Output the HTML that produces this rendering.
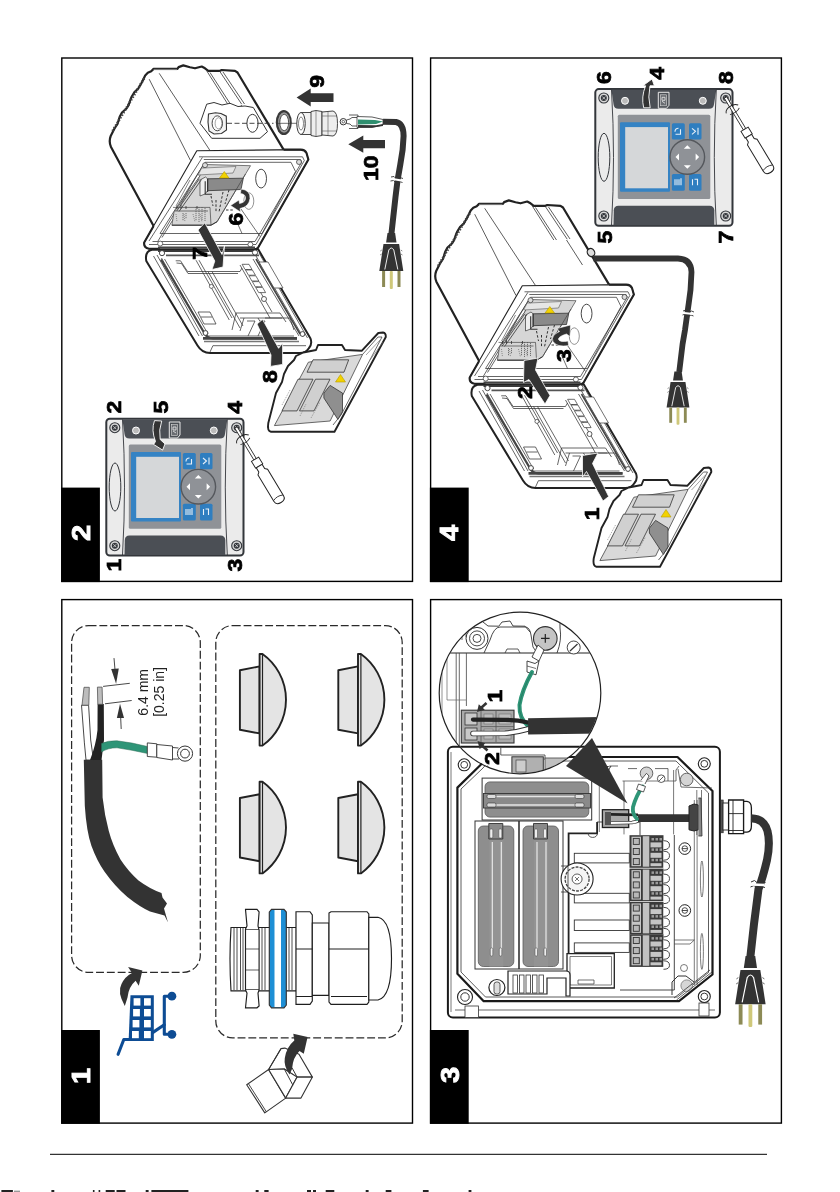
<!DOCTYPE html>
<html><head><meta charset="utf-8"><style>
html,body{margin:0;padding:0;background:#fff;}
body{width:840px;height:1192px;overflow:hidden;position:relative;font-family:"Liberation Sans",sans-serif;}
svg{position:absolute;left:0;top:0;filter:blur(0.3px);}
.n{font-family:"Liberation Sans",sans-serif;font-weight:bold;}
.t{font-family:"Liberation Sans",sans-serif;}
</style></head><body>
<svg width="840" height="1192" viewBox="0 0 840 1192">
<defs>
<g id="ctrl">
<rect x="0.8" y="0.8" width="137.2" height="136.7" rx="3.5" fill="#ebebeb" stroke="#33363b" stroke-width="2"/>
<path d="M17 1.5 L121.8 1.5 L119.5 16 Q119 20.5 114.5 20.5 L24 20.5 Q19.5 20.5 19 16 Z" fill="#4b4f55"/>
<path d="M19 137 L119.8 137 L119.8 122 Q119.5 117.5 115 117.5 L24 117.5 Q19.5 117.5 19.3 122 Z" fill="#4b4f55"/>
<path d="M17 1.5 Q21 69 17 137" fill="none" stroke="#33363b" stroke-width="0.9"/>
<path d="M121.8 1.5 Q117.8 69 121.8 137" fill="none" stroke="#33363b" stroke-width="0.9"/>
<rect x="23.3" y="26.5" width="92.5" height="84.3" rx="1.5" fill="#8f9297"/>
<rect x="25.5" y="34" width="50" height="69.5" rx="1" fill="#3583c4"/>
<rect x="30.7" y="38.8" width="42.8" height="61.2" fill="#d5d7d9"/>
<rect x="77.4" y="34.9" width="12.9" height="16.3" rx="1.5" fill="#2f7ec0"/>
<rect x="94.5" y="34.9" width="12.5" height="16.3" rx="1.5" fill="#2f7ec0"/>
<rect x="77.4" y="85.7" width="12.9" height="16.7" rx="1.5" fill="#2f7ec0"/>
<rect x="94.5" y="85.7" width="12.5" height="16.7" rx="1.5" fill="#2f7ec0"/>
<g fill="none" stroke="#e8f0f8" stroke-width="1.1">
<path d="M80.5 43.5 Q80.5 40 84 40 M86 41 L86 46 L81 46"/>
<path d="M97.5 40 L101 43 L97.5 46 M103.5 39.5 L103.5 46.5"/>
<path d="M80.5 91 L80.5 97 M82.5 91 L82.5 97 M84.5 91 L84.5 97 M86.5 90 L86.5 97"/>
<path d="M98 91 L98 97 M100 91 L103 91 L103 97"/>
</g>
<circle cx="92.8" cy="68.7" r="17.3" fill="#8f9297" stroke="#55585d" stroke-width="1.4"/>
<g fill="#fff">
<path d="M92.8 57 L96.3 60.5 L89.3 60.5 Z"/>
<path d="M92.8 80.5 L96.3 77 L89.3 77 Z"/>
<path d="M81 68.7 L84.5 65.2 L84.5 72.2 Z"/>
<path d="M104.6 68.7 L101.1 65.2 L101.1 72.2 Z"/>
</g>
<g fill="#d8d8d8" stroke="#33363b" stroke-width="1.1">
<circle cx="9.3" cy="9.7" r="5"/><circle cx="131.2" cy="9.7" r="5"/>
<circle cx="9.3" cy="127.7" r="5"/><circle cx="131.2" cy="127.7" r="5"/>
</g>
<g fill="#33363b">
<circle cx="9.3" cy="9.7" r="3"/><circle cx="131.2" cy="9.7" r="3"/>
<circle cx="9.3" cy="127.7" r="3"/><circle cx="131.2" cy="127.7" r="3"/>
</g>
<g stroke="#ddd" stroke-width="0.8">
<path d="M7.8 8.2 L10.8 11.2 M10.8 8.2 L7.8 11.2"/>
<path d="M129.7 8.2 L132.7 11.2 M132.7 8.2 L129.7 11.2"/>
<path d="M7.8 126.2 L10.8 129.2 M10.8 126.2 L7.8 129.2"/>
<path d="M129.7 126.2 L132.7 129.2 M132.7 126.2 L129.7 129.2"/>
</g>
<g fill="#bbb" stroke="#fff" stroke-width="1">
<circle cx="30.5" cy="12.5" r="3.5"/><circle cx="108.3" cy="12.5" r="3.5"/>
</g>
<path d="M63.8,4 L74.5,4 L74.5,17 L72,20 L63.8,20 Z" fill="#4b4f55" stroke="#e8e8e8" stroke-width="1"/>
<rect x="66" y="6.5" width="6" height="11" fill="#6a6d72" stroke="#ddd" stroke-width="0.6"/>
<path d="M67.5,9 L70.5,9 L70.5,12 L67.5,12 Z M67.5,13 L70.5,15" fill="none" stroke="#eee" stroke-width="0.8"/>
<ellipse cx="9.5" cy="69" rx="5.8" ry="24" fill="none" stroke="#33363b" stroke-width="1"/>
</g>

<g id="housing">
<!-- back housing body -->
<path d="M153.6,226 L111,147 Q108.6,141.5 110.7,136 L114.5,128.5 L117.5,124 L119.6,117.1 L122,112.5 L126.5,108.5 L128.6,105.2 L130.5,99.5 L131.8,96.5 L134.5,92.1 L138.3,88.5 L141.5,83 L143.5,79 L145.2,75.5 L147.8,72.8 L151.2,71.3 L153.6,68.9 L177.4,68.9 L178.6,67.1 L183.3,65.4 L190,67.2 L195,68.3 L201.7,66.5 L205,68.3 L208.3,70.8 L220,70.8 L221.7,70 L235,70.8 L237.5,72.5 L283.6,149.6 L197,150.8 Z" fill="#fff" stroke="none"/>
<path d="M153.6,226 L111,147 Q108.6,141.5 110.7,136 L114.5,128.5 L117.5,124 L119.6,117.1 L122,112.5 L126.5,108.5 L128.6,105.2 L130.5,99.5 L131.8,96.5 L134.5,92.1 L138.3,88.5 L141.5,83 L143.5,79 L145.2,75.5 L147.8,72.8 L151.2,71.3 L153.6,68.9 L177.4,68.9 L178.6,67.1 L183.3,65.4 L190,67.2 L195,68.3 L201.7,66.5 L205,68.3 L208.3,70.8 L220,70.8 L221.7,70 L235,70.8 L237.5,72.5 L283.6,149.6" fill="none" stroke="#222" stroke-width="2.2" stroke-linejoin="round"/>
<path d="M112.5,131 L145,77" fill="none" stroke="#444" stroke-width="2.6" stroke-dasharray="1.4 1.6"/>
<path d="M153.6,69.5 L177,69.5" stroke="#777" stroke-width="1.2"/>
<g fill="none" stroke="#333" stroke-width="0.8">
<path d="M149.2,79.2 L190.5,160.5"/>
<path d="M159.2,73.3 L210,150.5"/>
<path d="M206.7,70.8 L228.3,105"/>
<path d="M210,72.5 L231,105"/>
<path d="M219.5,71 L241.7,104.2"/>
<path d="M223,72 L244.5,104"/>
<path d="M241,105 L257,130"/>
</g>
<!-- front flange -->
<path d="M196.8,150.8 L300.7,149.6 Q305,149.8 306.5,153 L308.4,159.6 L258,247.8 Q256.5,249.5 254,249.5 L149,248.8 Q143.5,247.5 144.2,242.5 L153.6,226 Z" fill="#fff" stroke="#222" stroke-width="1.1" stroke-linejoin="round"/>
<path d="M283.6,149.6 L300.7,149.6 Q305,149.8 306.5,153 L308.4,159.6 L258,247.8 Q256.5,249.5 254,249.5 M153.6,226 L144.2,242.5 Q143.5,247.5 149,248.8 L160,248.8" fill="none" stroke="#222" stroke-width="2.1" stroke-linejoin="round"/>
<g fill="none" stroke="#333" stroke-width="0.75">
<path d="M199,156.8 L302.5,156.8 L304.3,160.5 L256,244.5 L149,244.5"/>
<path d="M202.4,157.4 L149,241"/>
<path d="M203.8,159.5 L300.5,159.5 L301.8,162 L255,241.5 L152.5,241.5"/>
<path d="M205,162.3 L291,162.3 L295.5,171.5 L262,233.5 L160,233.5 Z"/>
<path d="M203.5,164.5 L158,241"/>
<path d="M206,166 L162,237.5"/>
</g>
<!-- opening interior: module -->
<path d="M205.2,164.5 L250.5,165.7 L217.1,221.7 L211,225.2 L171.9,225.2 L174,212 L199.3,177 Z" fill="#d6d6d6" stroke="#444" stroke-width="0.7"/>
<path d="M201.7,168.1 L236,166.5 L233,173 L198,175 Z" fill="#e6e6e6" stroke="#555" stroke-width="0.6"/>
<path d="M207.6,178.8 L243.3,178.2 L241,189.5 L207.6,190.7 Z" fill="#8a8a8a" stroke="#333" stroke-width="0.8"/>
<path d="M205.5,177 L207.6,178.8 L207.6,190.7 L205,194 L200,196 L200,180 Z" fill="#eee" stroke="#333" stroke-width="0.7"/>
<path d="M219.5,178 L224.3,171.5 L229,178 Z" fill="#f2d200" stroke="#b59b00" stroke-width="0.6"/>
<path d="M173,207.4 L210,207.4 L211,225 M175,211 L208,211" fill="none" stroke="#444" stroke-width="0.7"/>
<path d="M177,209 L177,206 M181,209 L181,205 M186,209 L186,206 M197,209 L197,206" stroke="#333" stroke-width="0.8"/>
<path d="M176,214 L177,222 M184,214 L185,222 M193,214 L195,222 M200,214 L202,222" stroke="#666" stroke-width="0.7" stroke-dasharray="1 1"/>
<path d="M211,196 L213,206 M216,200 L216,212 M223,192 L219,212 M229,190 L225,204 M226,210 L234,210" stroke="#333" stroke-width="1" stroke-dasharray="2.5 1.8" fill="none"/>
<path d="M190,180 L176,206 M194,180 L180,206" stroke="#555" stroke-width="0.7"/>
<path d="M217.1,221.7 L245.5,174" stroke="#444" stroke-width="0.7"/>
<path d="M199.3,178.8 L176.7,211 M201.5,179.5 L179,211.5" stroke="#444" stroke-width="0.9" fill="none"/>
<path d="M205.2,181.2 L205.2,194.3 L212,194.3 M207.6,178.8 L207.6,192" stroke="#333" stroke-width="1.1" fill="none"/>
<path d="M183,213 L183,221 M186,213 L186,219 M196,207 L196,221 M199,207 L199,222 M202,207 L202,220 M205,208 L205,221" stroke="#555" stroke-width="0.8" stroke-dasharray="1.2 0.8"/>
<path d="M171.9,225.2 L211,225.2 L217.1,221.7" stroke="#333" stroke-width="1" fill="none"/>
<ellipse cx="261.1" cy="178.6" rx="5.4" ry="9.4" fill="#fff" stroke="#333" stroke-width="0.9"/>
<ellipse cx="248.8" cy="201.1" rx="5" ry="8.3" fill="#fff" stroke="#666" stroke-width="0.7"/>
<path d="M240.7,208.6 L260,236.5 M236,220 L242,233.5" stroke="#333" stroke-width="0.7"/>
<circle cx="205" cy="165.2" r="2.5" fill="#ddd" stroke="#444" stroke-width="0.8"/>
<circle cx="299" cy="162" r="2.5" fill="#ddd" stroke="#444" stroke-width="0.8"/>
<circle cx="160.2" cy="243.6" r="2.5" fill="#fff" stroke="#444" stroke-width="0.8"/>
<circle cx="250.4" cy="244.5" r="2.5" fill="#fff" stroke="#444" stroke-width="0.8"/>
<!-- lower housing -->
<path d="M152,249.8 L258.2,249.3 L310.5,338.5 Q312.5,344 309,348 Q306,353 300,353 L210,353 Q202,353 197.5,345.5 L146.3,261 Q144.5,251.5 152,249.8 Z" fill="#fff" stroke="#222" stroke-width="2" stroke-linejoin="round"/>
<path d="M158,247.6 L255,247.6" stroke="#444" stroke-width="2"/>
<path d="M158,251 L256,251" stroke="#3a3a3a" stroke-width="2"/>
<path d="M166,255.3 L259,255.3" stroke="#555" stroke-width="1.8"/>
<g fill="none" stroke="#333" stroke-width="0.75">
<path d="M153.5,256 L199,336 M157,255 L202.5,336 M161.5,258 L205.5,335 M164.5,259 L208,334"/>
<path d="M259,253 L307.5,338 M256,256 L303,337 M253,259 L299,336"/>
<path d="M175.7,260.8 L180.5,260.8 L187.6,271.5 L240,271.5 L242,268"/>
<path d="M176.5,263 L181.5,263.5 L188,273.5 L238,273.5"/>
<path d="M196,260.2 L229.3,320 M199,260.2 L232,318"/>
<path d="M208,271.5 L240,328 M212,271.5 L243,326"/>
<path d="M240,265 L270,318 M244,264 L272,312"/>
<path d="M205.5,336 L294,336"/>
<path d="M212.9,345.7 L306,345.7 M212.9,345.7 L210,352"/>
<path d="M265,318 L290,318 L294,330"/>
<path d="M258,318 L278,352"/>
<path d="M247,321 L255,321 L248,336 M260,321 L265,321 L258,336"/>
<path d="M198,312 L210,312 L216,324 L204,324 Z M201,317 L212,317"/>
<path d="M236,313 L280,313 L286,322 M240,318 L282,318 M236,313 L232,330 M244,318 L240,331"/>
</g>
<g fill="#fff" stroke="#333" stroke-width="0.7">
<path d="M242.1,264.3 L249,264.3 L252,269.5 L245,269.5 Z"/>
<path d="M245.5,270 L252.4,270 L255.4,275.2 L248.5,275.2 Z"/>
<path d="M248.9,275.8 L255.8,275.8 L258.8,281 L251.9,281 Z"/>
<path d="M252.3,281.6 L259.2,281.6 L262.2,286.8 L255.3,286.8 Z"/>
<path d="M255.7,287.4 L262.6,287.4 L265.6,292.6 L258.7,292.6 Z"/>
<path d="M259,262 L268,262 L283,288 L274,288 Z"/>
</g>
<circle cx="211.4" cy="286.4" r="2" fill="#fff" stroke="#333" stroke-width="0.7"/>
<circle cx="264" cy="299" r="2.5" fill="#fff" stroke="#333" stroke-width="0.8"/>
<path d="M161,259.5 L204,332.5 Q207,338.4 213,338.4 L297,338.4" fill="none" stroke="#444" stroke-width="2.2"/>
<path d="M203,338.4 L297,338.4" stroke="#444" stroke-width="2.6"/>
<path d="M256,259 L300,334" stroke="#444" stroke-width="1.6"/>
<path d="M204,341.5 L299,341.5" stroke="#777" stroke-width="1.3"/>
<circle cx="162" cy="253.1" r="2.6" fill="#fff" stroke="#333" stroke-width="0.9"/>
<circle cx="255" cy="252.5" r="2.6" fill="#fff" stroke="#333" stroke-width="0.9"/>
<circle cx="302.5" cy="334" r="2.4" fill="#fff" stroke="#333" stroke-width="0.9"/>
<circle cx="205.5" cy="333" r="2.4" fill="#fff" stroke="#333" stroke-width="0.9"/>
<!-- door -->
<path d="M271,431.8 L334.5,431.8 L385.8,337 Q386,333 383,332.5 L378.3,333 L361.7,350.8 L345,350 L342,345 L318,345 L316,350 L303.3,352.5 L296,356 L294,360 L288,366 L284,374 L282,382 L276,393 L268.3,423 Q267,431 271,431.8 Z" fill="#fff" stroke="#222" stroke-width="1.9" stroke-linejoin="round"/>
<path d="M274.4,425.6 L308.4,362.2 L362.6,354.4 L330.1,421 Z" fill="#d9d9d9" stroke="#444" stroke-width="0.8"/>
<path d="M362.6,354.4 L378,337 L382,337 L341,415 L333,425" fill="none" stroke="#444" stroke-width="0.8"/>
<path d="M366,355 L380,340 M370,360 L383,342" fill="none" stroke="#666" stroke-width="0.6"/>
<path d="M313,359.8 L348.7,359.8 L344,372.2 L307,372.2 Z" fill="#d0d0d0" stroke="#333" stroke-width="0.8"/>
<path d="M298,379.2 L313,379.2 L297,410.9 L282,410.9 Z" fill="#d0d0d0" stroke="#333" stroke-width="0.8"/>
<path d="M315.5,379.2 L330,379.2 L314,410.9 L299.5,410.9 Z" fill="#d0d0d0" stroke="#333" stroke-width="0.8"/>
<path d="M323.9,393.1 L330.1,385.4 L342.5,393.1 L342.5,411.7 L337.9,419.4 L323.9,398 Z" fill="#8f8f8f" stroke="#333" stroke-width="0.8"/>
<path d="M335.5,382 L340.5,374.5 L345.5,382 Z" fill="#f2d200" stroke="#b59b00" stroke-width="0.6"/>
<path d="M282,405 L290,390 M300,416 L306,404 M311,418 L320,402" stroke="#666" stroke-width="0.6" stroke-dasharray="1 1"/>
</g>

<g id="dome">
<!-- origin at stem top-left -->
<path d="M0,0 L19.7,-3.8 L19.7,63.2 L0,59.5 Z" fill="#e4e4e4" stroke="#222" stroke-width="1.9" stroke-linejoin="round"/>
<path d="M19.7,-16.2 L22.6,-16.2 A56.4,56.4 0 0 1 22.6,75.4 L19.7,75.4 Z" fill="#e4e4e4" stroke="#222" stroke-width="1.9" stroke-linejoin="round"/>
<path d="M22.6,-16 L22.6,75" stroke="#222" stroke-width="1.2"/>
</g>

<g id="plug">
<!-- local coords: cable end top-center at (0,0); body bottom at y=38 -->
<path d="M-3.8,0 L3.8,0 L5.2,9.5 L-5.2,9.5 Z" fill="#333"/>
<path d="M-7.8,11 L7.8,11 L12,38 L-12,38 Z" fill="#333"/>
<path d="M-6.5,36.5 L-2.5,17 Q0,13 2.5,17 L6.5,36.5" fill="none" stroke="#fff" stroke-width="0.9"/>
<path d="M-9.5,17 L-11,18 M-9.6,21 L-11.2,22 M9.5,17 L11,18 M9.6,21 L11.2,22" stroke="#555" stroke-width="0.7"/>
<rect x="-9.2" y="38" width="3" height="16" fill="#8c8a55"/>
<rect x="-1.5" y="38" width="3" height="18" rx="1" fill="#cfc87a"/>
<rect x="6.2" y="38" width="3" height="16" fill="#8c8a55"/>
</g>
<g id="sdriver">
<!-- along +x from tip at origin -->
<path d="M0,-1.4 L37,-1.4 L37,1.4 L0,1.4 Z" fill="#fff" stroke="#222" stroke-width="0.8"/>
<path d="M37,-4.2 L45,-4.2 L45,4.2 L37,4.2 Z" fill="#fff" stroke="#222" stroke-width="0.9"/>
<path d="M45,-3.4 L50,-3.4 L52,-5.6 L83,-5.6 Q87.5,-5.6 87.5,0 Q87.5,5.6 83,5.6 L52,5.6 L50,3.4 L45,3.4 Z" fill="#fff" stroke="#222" stroke-width="1"/>
<path d="M82,-5.4 Q79.5,0 82,5.4" fill="none" stroke="#222" stroke-width="0.8"/>
<path d="M13,-7 Q9,-4 10,2 Q11,7 14,7.5 M16,-6.5 Q19,-2 17,5" fill="none" stroke="#222" stroke-width="0.9"/>
</g>

<g id="tblock">
<rect x="0" y="0" width="34" height="32.6" fill="#3a3a3a"/>
<rect x="2" y="1.5" width="9.5" height="29.5" fill="#c6c6c6"/>
<rect x="3.8" y="3.2" width="6" height="6" fill="#b8b8b8" stroke="#333" stroke-width="0.9"/>
<rect x="3.8" y="13.3" width="6" height="6" fill="#b8b8b8" stroke="#333" stroke-width="0.9"/>
<rect x="3.8" y="23.4" width="6" height="6" fill="#b8b8b8" stroke="#333" stroke-width="0.9"/>
<rect x="13.3" y="1" width="6.5" height="30.5" fill="#c2c2c2"/>
<g fill="#c6c6c6">
<rect x="21" y="7.2" width="11" height="5"/><rect x="21" y="17.6" width="11" height="5"/><rect x="21" y="28" width="11" height="3"/>
</g>
<g fill="#9a9a9a">
<rect x="22" y="2.8" width="2.5" height="2.5"/><rect x="26" y="2.8" width="2.5" height="2.5"/><rect x="30" y="2.8" width="2.5" height="2.5"/>
<rect x="22" y="13.2" width="2.5" height="2.5"/><rect x="26" y="13.2" width="2.5" height="2.5"/><rect x="30" y="13.2" width="2.5" height="2.5"/>
<rect x="22" y="23.6" width="2.5" height="2.5"/><rect x="26" y="23.6" width="2.5" height="2.5"/><rect x="30" y="23.6" width="2.5" height="2.5"/>
</g>
<g fill="#fff" stroke="#333" stroke-width="0.9">
<path d="M34,5.5 Q40,5.5 40,10 Q40,14.5 34,14.5"/>
<path d="M34,16 Q40,16 40,20.5 Q40,25 34,25"/>
<path d="M34,26.5 Q40,26.5 40,31 Q40,35 34,35"/>
</g>
</g>
<g id="relayv">
<rect x="0" y="0" width="35.5" height="140.5" rx="5" fill="#8e8e8e" stroke="#5a5a5a" stroke-width="0.8"/>
<rect x="11" y="0" width="14" height="140.5" fill="#939393"/>
<path d="M14,16 L14,124 M23,16 L23,124" stroke="#e8e8e8" stroke-width="1.2"/>
<path d="M10.5,-2.5 L24.5,-2.5 L24.5,13 L10.5,13 Z" fill="#8a8a8a" stroke="#333" stroke-width="0.9"/>
<rect x="11.5" y="3" width="3" height="9" rx="1" fill="#eee" stroke="#444" stroke-width="0.5"/>
<rect x="20.5" y="3" width="3" height="9" rx="1" fill="#eee" stroke="#444" stroke-width="0.5"/>
<rect x="12" y="122" width="2.5" height="8" rx="1" fill="#eee" stroke="#444" stroke-width="0.5"/>
<rect x="21" y="122" width="2.5" height="8" rx="1" fill="#eee" stroke="#444" stroke-width="0.5"/>
</g>

</defs>
<!-- frames -->
<g fill="none" stroke="#000" stroke-width="1.4">
<rect x="61.8" y="58" width="350.7" height="523.4"/>
<rect x="430.6" y="58" width="350.8" height="523.4"/>
<rect x="61.8" y="599.6" width="350.7" height="523.5"/>
<rect x="430.6" y="599.6" width="350.8" height="523.5"/>
</g>
<!-- tabs -->
<g fill="#000">
<rect x="61.1" y="487.6" width="38.8" height="94.5"/>
<rect x="429.9" y="487.6" width="38.8" height="94.5"/>
<rect x="61.1" y="1030" width="38.8" height="93.8"/>
<rect x="429.9" y="1030" width="38.8" height="93.8"/>
</g>
<g class="n" fill="#fff" stroke="#fff" stroke-width="0.9" font-size="26" text-anchor="middle">
<text transform="translate(89.5,533) rotate(-90) scale(1.12,1)">2</text>
<text transform="translate(458.3,533) rotate(-90) scale(1.12,1)">4</text>
<text transform="translate(89.5,1076) rotate(-90) scale(1.12,1)">1</text>
<text transform="translate(459.1,1074.8) rotate(-90) scale(1.12,1)">3</text>
</g>
<!-- footer -->
<line x1="50" y1="1154.3" x2="767" y2="1154.3" stroke="#000" stroke-width="1"/>
<!-- dashed boxes panel 1 -->
<g fill="none" stroke="#2a2a2a" stroke-width="1.25" stroke-dasharray="7.9 2.9">
<rect x="71.6" y="625.5" width="128.7" height="346.9" rx="17"/>
<rect x="215.8" y="625.5" width="186.4" height="412.4" rx="17"/>
</g>

<use href="#ctrl" transform="translate(105.5,418)"/>
<use href="#ctrl" transform="translate(594.5,88.3)"/>

<use href="#sdriver" transform="translate(236,427.5) rotate(59)"/>
<use href="#sdriver" transform="translate(725.5,97.5) rotate(59)"/>

<use href="#housing"/>
<use href="#housing" transform="translate(325.5,135)"/>

<!-- P2 gland plate on back housing -->
<path d="M206.7,104.2 L214,102.5 L222,105 L230,103.3 L238,106.5 L245,106 L253.3,107.5 L267.5,131.7 L260,138.3 L211.7,138.3 L200,123.3 Z" fill="#fff" stroke="#333" stroke-width="1"/>
<path d="M208.5,114 L215.5,112.8 L221,113.5 L226.3,116.2 L226.5,130 L221.5,133.5 L214,134 L209,131 L208,122 Z" fill="#f4f4f4" stroke="#333" stroke-width="1.1"/>
<ellipse cx="217.3" cy="123.3" rx="5.2" ry="7.5" fill="#fff" stroke="#333" stroke-width="0.9"/>
<ellipse cx="218.5" cy="123.3" rx="3.4" ry="5.6" fill="none" stroke="#666" stroke-width="0.6"/>
<ellipse cx="252.5" cy="123.3" rx="5.6" ry="9" fill="#fff" stroke="#333" stroke-width="1"/>
<path d="M227,123.3 L273.5,123.3" stroke="#333" stroke-width="0.9" stroke-dasharray="5 2.5"/>
<!-- washer -->
<ellipse cx="283.8" cy="122.5" rx="8" ry="12.6" fill="#3a3a3a"/>
<ellipse cx="284" cy="122.5" rx="6" ry="10.3" fill="#9a9a9a"/>
<ellipse cx="284.2" cy="122.5" rx="4.4" ry="8.2" fill="#fff" stroke="#333" stroke-width="0.8"/>
<path d="M276.5,123.3 L292,123.3" stroke="#333" stroke-width="0.7"/>
<!-- gland body -->
<path d="M301,112.5 L312,112.5 L312,134.5 L301,134.5 Z" fill="#f2f2f2" stroke="#333" stroke-width="0.9"/>
<ellipse cx="301" cy="123.5" rx="4.2" ry="11" fill="#fff" stroke="#333" stroke-width="1"/>
<ellipse cx="301" cy="123.5" rx="2.5" ry="6.5" fill="none" stroke="#555" stroke-width="0.7"/>
<path d="M311,111.5 L316,110.5 L322,111.5 L322,135.5 L316,136.5 L311,135.5 Z" fill="#eee" stroke="#333" stroke-width="0.9"/>
<path d="M322,112 L333,111 Q337.5,112 337.5,123.5 Q337.5,135 333,136 L322,135 Z" fill="#eee" stroke="#333" stroke-width="0.9"/>
<path d="M316,111 L316,136 M322,116 L337,116 M322,131 L337,131 M328,111.5 L328,135.5" stroke="#555" stroke-width="0.6" fill="none"/>
<path d="M292,123.3 L297,123.3" stroke="#333" stroke-width="0.7"/>
<!-- cable end with wires -->
<circle cx="343.3" cy="121.7" r="3.2" fill="#fff" stroke="#333" stroke-width="1"/>
<circle cx="343.3" cy="121.7" r="1.3" fill="#fff" stroke="#333" stroke-width="0.7"/>
<path d="M346.5,120 L350,119 L352,117.5 L358,117.5 L358,126 L352,126 L350,124 L346.5,123.5 Z" fill="#fff" stroke="#333" stroke-width="0.8"/>
<path d="M349,115 L358,115 L358,117 M349,128.5 L358,128.5 L358,126" fill="none" stroke="#333" stroke-width="0.8"/>
<path d="M357,116.5 L372,117 L383,119.5 L383,125 L372,127.5 L357,127.5 Z" fill="#fff" stroke="#333" stroke-width="0.8"/>
<path d="M358,119.5 L375,120 L383,121.5 L376,124 L358,124.5 Z" fill="#2f8f6f"/>
<path d="M358,125 L376,125.3 L383,124 L383,126 L372,127.5 L358,127.5 Z" fill="#333"/>
<!-- cable -->
<path d="M383,121.7 L396,122 Q403.5,123.5 403.6,136 L402.6,150 L400.3,164.5 L397.6,180 L395.5,197 L391.4,234" fill="none" stroke="#333" stroke-width="6"/>
<path d="M391,177 L394,176.5 L396.5,179 L400,177.5 L403,178.5 M390.5,181 L393.5,180.5 L396,183 L399.5,181.5 L402.5,182.5" fill="none" stroke="#333" stroke-width="0.9"/>
<path d="M392.5,179 L401.5,180.5" stroke="#fff" stroke-width="2.2"/>
<use href="#plug" transform="translate(391.3,233)"/>
<!-- arrows 9 & 10 -->
<path d="M333.5,93.3 L310.7,93.3 L310.7,88.4 L296.6,97.6 L310.7,106.6 L310.7,102 L333.5,102 Z" fill="#333"/>
<path d="M385,140 L363.3,140 L363.3,135.5 L348.3,144.2 L363.3,152.8 L363.3,148.3 L385,148.3 Z" fill="#333"/>
<!-- arrow 7 -->
<path d="M198,230 L204.8,222.8 L222,254.5 L224.5,246 L223,267 L212,269.5 L214.8,261 Z" fill="#333" stroke="#fff" stroke-width="0.8"/>
<!-- arrow 8 -->
<path d="M257,324 L262.5,319.4 L278.6,348.3 L282.6,342.9 L282.6,364.4 L270.5,366.4 L271,355 Z" fill="#333" stroke="#fff" stroke-width="0.8"/>
<!-- arrow 6 curved -->
<path d="M241,189 Q250.5,190 250,198.5 Q249,207 240,208.5 L240.5,212 L230.5,205.5 L239,200 L239.5,203.5 Q245.5,202.5 245.5,198 Q245.5,194 240.5,193.5 Z" fill="#333" stroke="#fff" stroke-width="0.6"/>
<!-- controller arrow 5 -->
<path d="M154.5,420.6 L161.7,421 Q158.5,430 160.2,439.5 L165,443.9 L162.6,450.1 L153.6,444.4 L155.5,441.5 Q151,430 154.5,420.6 Z" fill="#333" stroke="#fff" stroke-width="0.9"/>

<!-- P4 cable -->
<path d="M593.5,258.5 L678,258.5 Q691,259 691.5,272 L690.5,290 L688.8,302.8 L685,330 L682.6,344 L679.2,372" fill="none" stroke="#333" stroke-width="5.8"/>
<path d="M683,311 L686,310 L688.5,312.5 L691.5,311 L694,312 M682.5,315 L685.5,314 L688,316.5 L691,315 L693.5,316" fill="none" stroke="#333" stroke-width="0.9"/>
<path d="M684,313 L693,314" stroke="#fff" stroke-width="2.2"/>
<ellipse cx="591" cy="252.5" rx="3.6" ry="4.2" fill="#ddd" stroke="#222" stroke-width="1.2" transform="rotate(-30 591 252.5)"/>
<use href="#plug" transform="translate(678,371.5) scale(0.95)"/>
<!-- arrows -->
<path d="M582.5,455.5 L598,453 L592.5,463.5 L608.7,496.5 L603,501 L586.5,471.5 L582.5,477 Z" fill="#333" stroke="#fff" stroke-width="0.8"/>
<path d="M524,360.5 L538,358 L535.5,370 L550,395.5 L545,404 L529,379.5 L523.5,382.5 Z" fill="#333" stroke="#fff" stroke-width="0.8"/>
<path d="M568.6,345.5 Q557,347.5 553,341.5 Q550.5,335.5 559.5,331.5 L557,328.5 L570.5,325 L570,336.5 L566.5,334 Q558,336.5 558.5,339.5 Q560,342.5 568,341 Z" fill="#333" stroke="#fff" stroke-width="0.6"/>
<!-- controller arrow 4 (white curved upward) -->
<path d="M643.7,107.8 L650.2,107.8 Q647.5,97 650,85.8 L654.4,85.8 L652,79 L642.8,85.8 L645.6,85.8 Q641,97 643.7,107.8 Z" fill="#333" stroke="#fff" stroke-width="0.9"/>

<!-- P1 cable -->
<path d="M83.8,759.7 L84.8,805.8 Q86.5,832 91.5,846 Q97,861 104.4,871.5 Q115,886.5 127.4,897 Q140,907 150,911.5 L164.5,915.5 L168,922.5 L164,908.5 L167,903.5 L162.5,897.5 L161.5,893 Q150,889 138.5,880.5 Q128,871 120.5,859.5 Q112.5,845 108.8,831 Q104.5,815 102.6,797.4 L102.2,759.7 Z" fill="#333"/>
<!-- white wire -->
<path d="M81.5,705.2 L84.4,742.9 L86,760 L93.5,760 L90.7,740 L88.6,705.2 Z" fill="#fff" stroke="#333" stroke-width="0.9"/>
<path d="M84,687.3 L89.3,687.3 L88.8,705.2 L82,705.2 Z" fill="#bdbdbd" stroke="#555" stroke-width="0.8"/>
<!-- black wire -->
<path d="M97.6,704 L103.8,704 L104,740 L101.5,760 L90,760 Q96,745 97.5,730 Z" fill="#222"/>
<path d="M97.4,687.1 L102.1,687.1 L102.6,704.3 L97.8,704.3 Z" fill="#bdbdbd" stroke="#555" stroke-width="0.8"/>
<!-- green wire -->
<path d="M101.5,743.5 Q108,740.5 117,740.8 Q132,742.5 147.5,746.5 L147.5,753.5 Q132,750 117,747.8 Q108,747.8 101.5,752 Z" fill="#2e9577" stroke="#2a6a55" stroke-width="0.5"/>
<path d="M147.3,742.9 L156.8,743.8 L156.8,757.2 L147.3,756.5 Z" fill="#fff" stroke="#333" stroke-width="0.9"/>
<path d="M156.8,744.5 L172.5,746 L172.5,760 L156.8,757.5 Z" fill="#fff" stroke="#333" stroke-width="0.9"/>
<circle cx="185" cy="753.6" r="7.6" fill="#fff" stroke="#333" stroke-width="1"/>
<circle cx="185" cy="753.6" r="4.4" fill="#fff" stroke="#333" stroke-width="1"/>
<path d="M172.5,747.5 L178.5,748 M172.5,759 L179,759" stroke="#333" stroke-width="0.9"/>
<!-- dimension -->
<g stroke="#333" stroke-width="0.9" fill="none">
<path d="M103.1,686.4 L129.8,683.3"/>
<path d="M105,703.8 L131.7,700.5"/>
<path d="M114,658.1 L115.2,672"/>
<path d="M121.2,729 L120.6,716"/>
</g>
<path d="M111.2,669 L118.8,668.5 L116.1,683.8 Z" fill="#333"/>
<path d="M116.9,718.1 L124,718.1 L120,703.8 Z" fill="#333"/>
<g class="t" font-size="14" fill="#222" text-anchor="middle">
<text transform="translate(148.2,692.3) rotate(-90)">6.4 mm</text>
<text transform="translate(163.8,691.9) rotate(-90)">[0.25 in]</text>
</g>
<!-- domes -->
<use href="#dome" transform="translate(239.9,670.2)"/>
<use href="#dome" transform="translate(338.3,670.2)"/>
<use href="#dome" transform="translate(239.9,798)"/>
<use href="#dome" transform="translate(338.3,798)"/>
<!-- gland -->
<g stroke="#1e1e1e" stroke-width="1.15">
<path d="M231,927.5 L296.4,927.5 L296.4,990.9 L231,990.9 Q229,959 231,927.5 Z" fill="#fff"/>
<path d="M234,928 L234,990 M237,928 L237,990 M240.5,928 L240.5,990 M243,928 L243,990 M262,928 L262,990 M265,928 L265,990 M289,928 L289,990 M292,928 L292,990" fill="none" stroke-width="0.8"/>
<path d="M245.5,909.4 L257,909.4 L259.1,912 L258,926 L259.1,930 L259.1,990 L258,993 L259.1,1006 L257,1007.8 L245.5,1007.8 L247,993 L245.5,990 L245.5,929 L247,926 Z" fill="#fff"/>
<path d="M245.5,929.5 L259,929.5 M245.5,949 L259,949 M245.5,970 L259,970 M245.5,989.5 L259,989.5" fill="none" stroke-width="0.7"/>
<path d="M269.3,912 L271.5,909.4 L284,909.4 L286.3,912 L286.3,1005 L284,1007.8 L271.5,1007.8 L269.3,1005 Z" fill="#1e8fd5" stroke="#333"/>
<path d="M274.5,910 L281,910 L281,1007 L274.5,1007 Z" fill="#fff" stroke="none"/>
<path d="M296,911.7 L310,911.7 L312.3,915 L312.3,1001 L310,1004.4 L296,1004.4 Z" fill="#fff"/>
<path d="M312.3,923 L329,923 L329,995.4 L312.3,995.4 Z" fill="#fff"/>
<path d="M329,913 L331,911.7 L367,911.7 L368.8,914 L368.8,1002 L367,1004.4 L331,1004.4 L329,1002 Z" fill="#fff"/>
<path d="M368.8,917.3 L378,917.3 Q391.5,920 391.5,958.5 Q391.5,997 378,1000 L368.8,1000 Z" fill="#fff"/>
<path d="M296,949 L312.3,949 M329,949 L368.8,949 M296,996.5 L312,996.5 M331,996.5 L367,996.5" fill="none" stroke-width="1"/>
</g>
<!-- cart icon -->
<path d="M130.5,995.2 L153.8,995.2 L153.8,1041 L128.6,1041 Z" fill="#0d4c94"/>
<g fill="#fff">
<rect x="133.6" y="998.2" width="6.8" height="7.4"/><rect x="144" y="998.2" width="6.8" height="7.4"/>
<rect x="133.1" y="1009" width="6.8" height="7.4"/><rect x="144" y="1009" width="6.8" height="7.4"/>
<rect x="132.6" y="1020" width="6.8" height="7.4"/><rect x="144" y="1020" width="6.8" height="7.4"/>
<rect x="132" y="1031" width="6.8" height="7.2"/><rect x="144" y="1031" width="6.8" height="7.2"/>
</g>
<g fill="none" stroke="#0d4c94" stroke-width="3.1" stroke-linecap="round" stroke-linejoin="round">
<path d="M153,1032.4 L164.3,1024.8"/>
<path d="M171.9,996.2 L164.3,996.2 L164.3,1034.3 L171.9,1034.3"/>
<path d="M118.1,1054.3 L123.8,1039.5 L130,1039.5"/>
</g>
<circle cx="171.9" cy="996.2" r="4.4" fill="#0d4c94"/>
<circle cx="171.9" cy="1034.3" r="4.4" fill="#0d4c94"/>
<!-- arrow cart -> box -->
<path d="M124.8,1006 Q117,992 121.5,984 Q125,976.5 132,973 L128.1,967.1 L142.4,970.5 L138.8,985.7 L135.6,980.8 Q128.5,987 127.5,997.5 Z" fill="#333"/>
<!-- open box icon -->
<g fill="#fff" stroke="#333" stroke-width="1.1" stroke-linejoin="round">
<path d="M281,1048.6 L284.8,1048.1 L299,1054.3 L312.4,1077.1 L297.1,1077.1 L284.3,1069 L268.6,1069.5 Z"/>
<path d="M246.7,1084.8 L268.6,1069.5 L285.7,1098.1 L264.8,1112.9 Z"/>
<path d="M268.6,1069.5 L284.3,1069 L297.1,1077.1 L285.7,1098.1 Z"/>
<path d="M297.1,1077.1 L312.4,1077.1 L301,1098.1 L285.7,1098.1 Z"/>
</g>
<path d="M248.5,1083.8 L266.5,1112" stroke="#333" stroke-width="0.9"/>
<path d="M284.3,1069 L292.9,1085.2 M291.9,1067.6 L297.1,1077.1 M281,1048.6 L268.6,1069.5" stroke="#333" stroke-width="1" fill="none"/>
<path d="M289.5,1074.5 Q283.5,1066 284.8,1058 Q286.5,1047 294.3,1040.5 L293.3,1033.8 L307.6,1037.1 L303.8,1053.8 L299.5,1051 Q293,1057 292,1069 Z" fill="#333"/>

<!-- P3 main box -->
<rect x="447.9" y="746.7" width="272" height="270.8" rx="5" fill="#fff" stroke="#1a1a1a" stroke-width="2"/>
<path d="M451,752 L451,1012" stroke="#555" stroke-width="0.8" fill="none"/>
<path d="M457.4,787.6 L481,764.5 L486,757 L677.5,757 L712.5,791 L712.5,974.5 L679,1001.2 L483.7,1001.2 L457.4,973.7 Z" fill="#fff" stroke="#1a1a1a" stroke-width="2.2" stroke-linejoin="round"/>
<path d="M461,789 L483,768 L489,761 L676,761 L708.5,793 L708.5,972.5 L677.5,997 L485.5,997 L461,972 Z" fill="none" stroke="#333" stroke-width="0.8"/>
<path d="M455,1010 L715,1010" stroke="#444" stroke-width="0.8"/>
<g fill="#fff" stroke="#222" stroke-width="1.1">
<circle cx="464.2" cy="764.8" r="6"/><circle cx="704.3" cy="763.8" r="6"/>
<circle cx="465" cy="997" r="7.5"/><circle cx="704.3" cy="996.5" r="6"/>
</g>
<g fill="none" stroke="#222" stroke-width="0.9">
<circle cx="464.2" cy="764.8" r="3.4"/><circle cx="704.3" cy="763.8" r="3.4"/>
<circle cx="465" cy="997" r="4.2"/><circle cx="704.3" cy="996.5" r="3.4"/>
</g>
<rect x="465" y="1006" width="13.5" height="11.5" fill="#fff" stroke="#333" stroke-width="0.8"/>
<rect x="699" y="1003" width="10" height="13" fill="#fff" stroke="#333" stroke-width="0.8"/>
<!-- relay 1 -->
<rect x="482.1" y="778.1" width="109.6" height="41.9" fill="#fff" stroke="#333" stroke-width="1"/>
<rect x="485" y="781.9" width="103.8" height="35.2" rx="5" fill="#8e8e8e" stroke="#5a5a5a" stroke-width="0.8"/>
<rect x="483.5" y="793.5" width="107" height="14.5" fill="#8a8a8a" stroke="#333" stroke-width="0.9"/>
<path d="M496,796.5 L578,796.5 M496,805 L578,805" stroke="#e6e6e6" stroke-width="1.3"/>
<rect x="487" y="794.5" width="9" height="4" rx="1.5" fill="#ddd" stroke="#333" stroke-width="0.6"/>
<rect x="487" y="803" width="9" height="4" rx="1.5" fill="#ddd" stroke="#333" stroke-width="0.6"/>
<rect x="575" y="794.5" width="9" height="4" rx="1.5" fill="#ddd" stroke="#333" stroke-width="0.6"/>
<rect x="575" y="803" width="9" height="4" rx="1.5" fill="#ddd" stroke="#333" stroke-width="0.6"/>
<!-- board frame left -->
<rect x="475" y="821" width="88" height="148" fill="#fff" stroke="#333" stroke-width="1"/>
<path d="M519,821 L519,969" stroke="#333" stroke-width="1.6"/>
<use href="#relayv" transform="translate(478.3,826)"/>
<use href="#relayv" transform="translate(523,826)"/>
<!-- right board -->
<path d="M568.6,953.3 L568.6,833.3 L597.1,833.3 L597.1,822 M568.6,833.3" fill="none" stroke="#222" stroke-width="1.8"/>
<path d="M597.1,822 L640,822 L640,835 M674.3,835 L674.3,990 L620,990" fill="none" stroke="#333" stroke-width="0.9"/>
<g fill="#fff" stroke="#333" stroke-width="0.9">
<rect x="574.3" y="853.3" width="55" height="9.6"/>
<rect x="574.3" y="893.3" width="55" height="9.6"/>
<rect x="574.3" y="920" width="55" height="10.5"/>
<rect x="574.3" y="942.9" width="55" height="9.5"/>
</g>
<circle cx="577.1" cy="879" r="16" fill="#fff" stroke="#222" stroke-width="1.1"/>
<circle cx="577.1" cy="879" r="12" fill="#f4f4f4" stroke="#444" stroke-width="1.3" stroke-dasharray="3 1.2"/>
<circle cx="577.1" cy="879" r="5" fill="#fff" stroke="#333" stroke-width="0.8"/>
<path d="M575,877 L579,881 M579,877 L575,881" stroke="#333" stroke-width="0.7"/>
<path d="M561,866 L568,866 L568,892 L561,892" fill="none" stroke="#333" stroke-width="0.8"/>
<use href="#tblock" transform="translate(629.5,835.2)"/>
<use href="#tblock" transform="translate(629.5,868.6)"/>
<use href="#tblock" transform="translate(629.5,901.9)"/>
<use href="#tblock" transform="translate(629.5,934.3)"/>
<g fill="#fff" stroke="#222" stroke-width="1">
<circle cx="684.8" cy="848.6" r="5.8"/><circle cx="684.8" cy="910.5" r="5.8"/>
</g>
<g fill="none" stroke="#222" stroke-width="0.8">
<circle cx="684.8" cy="848.6" r="2.8"/><circle cx="684.8" cy="910.5" r="2.8"/>
<path d="M682,848.6 L687.6,848.6 M682,910.5 L687.6,910.5"/>
</g>
<path d="M694.3,800 L694.3,985 M697.1,800 L697.1,985" stroke="#444" stroke-width="0.7"/>
<ellipse cx="701.9" cy="879" rx="1.5" ry="18" fill="none" stroke="#444" stroke-width="0.7"/>
<ellipse cx="701.9" cy="951.4" rx="1.5" ry="18" fill="none" stroke="#444" stroke-width="0.7"/>
<path d="M674.3,940 L694.3,940 L690,944 L674.3,944" fill="none" stroke="#444" stroke-width="0.7"/>
<path d="M588,833.3 A4.8,4.8 0 0 0 597.5,833.3" fill="none" stroke="#444" stroke-width="0.9"/>
<!-- bottom area -->
<path d="M567,953.6 L614.3,953.6 L614.3,988 L567,988 Z" fill="#fff" stroke="#222" stroke-width="1.3"/>
<path d="M570,956.5 L611.5,956.5 L611.5,985 L570,985 Z" fill="none" stroke="#444" stroke-width="0.7"/>
<path d="M578,980 L594,980 L594,984 L578,984 Z" fill="#fff" stroke="#333" stroke-width="0.7"/>
<path d="M508,971 L566,971 Q570,971 570,975 L570,996 L566,996 L566,978 L547,978 L547,994 L508,994 Z" fill="#fff" stroke="#222" stroke-width="1.2"/>
<g fill="#fff" stroke="#333" stroke-width="0.8">
<rect x="513" y="975" width="4.5" height="18"/><rect x="519.5" y="975" width="4.5" height="18"/><rect x="526" y="975" width="4.5" height="18"/><rect x="532.5" y="975" width="4.5" height="18"/><rect x="539" y="975" width="4.5" height="18"/>
</g>
<circle cx="496.9" cy="987.5" r="8" fill="#fff" stroke="#222" stroke-width="1.2"/>
<rect x="494" y="982" width="6" height="12" rx="2.5" fill="#ddd" stroke="#333" stroke-width="0.8"/>
<circle cx="686.7" cy="985.7" r="5.8" fill="#d6d6d6" stroke="#666" stroke-width="0.7"/>
<path d="M672,995 L672,982 L678,976 L686,976 L694,982" fill="none" stroke="#333" stroke-width="1"/>
<path d="M674,998 L710,970 M676.5,1000 L712,972" stroke="#333" stroke-width="0.8"/>
<circle cx="684" cy="968" r="3.5" fill="#fff" stroke="#444" stroke-width="0.7"/>
<!-- top area within box -->
<path d="M599.3,781.8 L599.3,832 M622.5,781 L676,781 M624,781 L624,834.4 M673.6,770 L673.6,834.4 M696.8,790 L696.8,835 M701.5,790 L701.5,835" fill="none" stroke="#555" stroke-width="0.8"/>
<path d="M606,781 L606,770 Q606,766 610,766 L618,766 M628,768.6 L637,768.6 M655,768.6 L668,768.6 L668,781 M676,781 L676,770 L679,766" fill="none" stroke="#444" stroke-width="0.8"/>
<path d="M608,766 Q603,770 604,779 M611,766 Q607,771 608,779" fill="none" stroke="#333" stroke-width="1"/>
<circle cx="646.5" cy="773.3" r="6.3" fill="#d4d4d4" stroke="#555" stroke-width="0.9"/>
<circle cx="686.7" cy="779.5" r="6.3" fill="#d4d4d4" stroke="#555" stroke-width="0.9"/>
<circle cx="661.2" cy="778.7" r="3.8" fill="#fff" stroke="#333" stroke-width="0.8"/>
<path d="M659,781 L663.5,776.5" stroke="#333" stroke-width="0.8"/>
<path d="M678,769 L681,787 L712,788" fill="none" stroke="#444" stroke-width="0.8"/>
<!-- small terminal block + wires -->
<rect x="602.4" y="809.7" width="26.3" height="17.8" fill="#a8a8a8" stroke="#222" stroke-width="1.3"/>
<rect x="605" y="812" width="6" height="13" fill="#555"/>
<path d="M611,814.3 L638,814.8" stroke="#222" stroke-width="2.8"/>
<path d="M611,822.8 L632,822.5 Q637,822 639,820" stroke="#333" stroke-width="3.6" fill="none"/>
<path d="M611,822.8 L632,822.5 Q637,822 639,820" stroke="#fff" stroke-width="2.2" fill="none"/>
<path d="M638,814.2 L690.6,814.2 L690.6,822 L638,822 Z" fill="#333"/>
<path d="M642.6,786.4 Q636,796 633,807 Q632,814 637,819" fill="none" stroke="#2e9577" stroke-width="3.8" stroke-linecap="round"/>
<path d="M638.5,784 L645.5,786.5 L643.5,792 L636.5,789.5 Z" fill="#fff" stroke="#333" stroke-width="0.8"/>
<path d="M641,780 L646.5,773.3 L649,776 L645,784" fill="#fff" stroke="#333" stroke-width="0.8"/>
<path d="M689,806 L694,804 L698.4,805 L698.4,829.8 L694,831 L689,829.8 Z" fill="#444" stroke="#222" stroke-width="1"/>
<path d="M698.4,798 L701,798 L702,836 L698.4,836" fill="#888" stroke="#333" stroke-width="0.8"/>
<!-- gland outside right -->
<rect x="720.7" y="800" width="2.5" height="32.8" fill="#555" stroke="#222" stroke-width="0.6"/>
<rect x="723" y="803" width="5.6" height="27" fill="#fff" stroke="#222" stroke-width="0.9"/>
<path d="M728.6,800 L743.6,800 L743.6,833.6 L728.6,833.6 Z" fill="#fff" stroke="#1a1a1a" stroke-width="1.3"/>
<path d="M743.6,801.4 L747,801.4 Q751.4,802 751.4,808 L751.4,826 Q751.4,832.1 747,832.1 L743.6,832.1 Z" fill="#fff" stroke="#1a1a1a" stroke-width="1.3"/>
<path d="M728.6,813.6 L743.6,813.6 M728.6,830.5 L743.6,830.5 M733,800 L733,833.6" stroke="#222" stroke-width="0.9"/>
<!-- cable outside -->
<path d="M751,818.2 Q764,818.5 767.5,831 Q770.5,843 767,860 Q763,877 758.5,889 L754,924 L750.3,957.5" fill="none" stroke="#333" stroke-width="8"/>
<path d="M751,882 L754.5,880.5 L757.5,883 L761.5,881.5 L765.5,882.5 M750.5,887 L754,885.5 L757,888 L761,886.5 L765,887.5" fill="none" stroke="#333" stroke-width="1"/>
<path d="M752,884.5 L764.5,885" stroke="#fff" stroke-width="2.6"/>
<use href="#plug" transform="translate(750.4,956) scale(1.27)"/>

<!-- cone -->
<path d="M566,766 L592,738 L627.5,803.5 Z" fill="#333"/>
<clipPath id="magclip"><circle cx="520" cy="693" r="80.3"/></clipPath>
<g clip-path="url(#magclip)">
<rect x="430" y="600" width="190" height="190" fill="#fff"/>
<!-- top zone -->
<path d="M438,653 L602,653" stroke="#222" stroke-width="1"/>
<path d="M440,640 Q448,614 470,622 L478,618 L488,626 L498.8,626.2 L502,622 L510,621 L513,626 L525,626.2 L530,632" fill="none" stroke="#333" stroke-width="0.9"/>
<path d="M462,621 L462,640 M466,619 L466,637 M470,618 L470,636 M474,619 L474,634" stroke="#444" stroke-width="0.8"/>
<circle cx="477" cy="638.4" r="11" fill="#fff" stroke="#333" stroke-width="1"/>
<circle cx="477" cy="638.4" r="7.5" fill="none" stroke="#333" stroke-width="0.9"/>
<circle cx="477" cy="638.4" r="4" fill="none" stroke="#333" stroke-width="0.9"/>
<path d="M484,653 L490,640 Q494,627 500,627 L526,627 Q530,628 531,635 L533,647 Q535,652 540,653" fill="none" stroke="#333" stroke-width="0.9"/>
<path d="M505,653 L507,649 L518,649 L520,653" fill="none" stroke="#333" stroke-width="0.8"/>
<path d="M557,653 Q562,640 560,628 Q559,620 565,614" fill="none" stroke="#333" stroke-width="0.9"/>
<circle cx="573.7" cy="647.5" r="6.5" fill="#fff" stroke="#333" stroke-width="0.9"/>
<path d="M570,651 L577.5,644" stroke="#333" stroke-width="1.2"/>
<circle cx="545.3" cy="638.4" r="11.8" fill="#c4c4c4" stroke="#333" stroke-width="1.1"/>
<path d="M541,638.4 L549.6,638.4 M545.3,634.1 L545.3,642.7" stroke="#222" stroke-width="1.2"/>
<path d="M538,645 L544,650 L539,661 L532,657 Z" fill="#fff" stroke="#333" stroke-width="0.9"/>
<path d="M527,661 L535,663.5 L539,661 L536,674.8 L527,672 Z" fill="#fff" stroke="#333" stroke-width="0.9"/>
<path d="M527,666 L536,668.5" stroke="#333" stroke-width="0.7"/>
<!-- left vertical lines -->
<path d="M456.2,653 L456.2,760 M459.3,653 L459.3,760 M466.4,653 L466.4,706" stroke="#444" stroke-width="0.8"/>
<path d="M442,653 L442,740 M447,653 L447,700 M447,700 L466,700" stroke="#666" stroke-width="0.7" fill="none"/>
<!-- green wire -->
<path d="M532,672 Q522,690 519.5,705 Q519,718 528,726" fill="none" stroke="#2e9577" stroke-width="4" stroke-linecap="round"/>
<path d="M532,672 Q522,690 519.5,705 Q519,718 528,726" fill="none" stroke="#1f6b55" stroke-width="0.5"/>
<!-- terminal block -->
<rect x="461.3" y="710.2" width="52.7" height="32.8" fill="#a9a9a9" stroke="#333" stroke-width="1.1"/>
<rect x="465" y="713" width="12" height="12" fill="#c8c8c8" stroke="#333" stroke-width="0.8"/>
<rect x="465" y="728" width="12" height="12" fill="#c8c8c8" stroke="#333" stroke-width="0.8"/>
<path d="M481,711 L481,742 M496,711 L496,742 M481,726.6 L514,726.6" stroke="#555" stroke-width="0.8"/>
<rect x="484" y="714" width="9" height="10" fill="#bdbdbd" stroke="#666" stroke-width="0.5"/>
<rect x="484" y="729" width="9" height="10" fill="#bdbdbd" stroke="#666" stroke-width="0.5"/>
<rect x="499" y="714" width="12" height="10" fill="#bdbdbd" stroke="#666" stroke-width="0.5"/>
<rect x="499" y="729" width="12" height="10" fill="#bdbdbd" stroke="#666" stroke-width="0.5"/>
<!-- wires -->
<path d="M473,719.6 L505,719.8 Q518,720 528,722.5" fill="none" stroke="#222" stroke-width="4.3" stroke-linecap="round"/>
<path d="M473,733.5 L505,733.3 Q518,732 528,729" fill="none" stroke="#333" stroke-width="5.6" stroke-linecap="round"/>
<path d="M473,733.5 L505,733.3 Q518,732 528,729" fill="none" stroke="#fff" stroke-width="3.8" stroke-linecap="round"/>
<!-- jacket -->
<path d="M528.1,718.3 L604,717 L604,733.5 L528.1,734.5 Z" fill="#333"/>
<!-- lower zone: box corner -->
<path d="M447.1,790 L447.1,751.7 Q447.1,746.7 452.1,746.7 L610,746.7" fill="none" stroke="#1a1a1a" stroke-width="2"/>
<path d="M451,752 L451,790" stroke="#555" stroke-width="0.8"/>
<circle cx="465.4" cy="763.9" r="6" fill="#fff" stroke="#222" stroke-width="1.1"/>
<circle cx="465.4" cy="763.9" r="3.4" fill="none" stroke="#222" stroke-width="0.9"/>
<path d="M470,783 L488,766 M474,786 L491,769" stroke="#222" stroke-width="1.6"/>
<path d="M500.8,747.7 L500.8,755 L545,755 L545,760 L604,760" fill="none" stroke="#333" stroke-width="0.8"/>
<rect x="511.9" y="756.8" width="31.4" height="20" fill="#b0b0b0" stroke="#333" stroke-width="1"/>
<rect x="516" y="760" width="10" height="12" fill="#ccc" stroke="#444" stroke-width="0.7"/>
<rect x="545" y="758" width="24" height="19" fill="#c0c0c0" stroke="#444" stroke-width="0.8"/>
<path d="M548,772 Q560,766 572,772" fill="none" stroke="#333" stroke-width="0.8"/>
</g>
<circle cx="520" cy="693" r="80.8" fill="none" stroke="#222" stroke-width="1.2"/>
<!-- small arrows 1,2 -->
<path d="M486.5,703 L481.5,707.5" stroke="#333" stroke-width="2.6"/>
<path d="M477,712 L478.8,704.3 L484.8,709.8 Z" fill="#333"/>
<path d="M487.5,750.5 L482,745.5" stroke="#333" stroke-width="2.6"/>
<path d="M477.5,741 L485.2,743.2 L479.7,749.2 Z" fill="#333"/>

<g class="n" fill="#000" stroke="#000" stroke-width="0.7" font-size="19.5" text-anchor="middle">
<text transform="translate(120.98,407.00) rotate(-90) scale(1.18,1)">2</text>
<text transform="translate(168.38,407.00) rotate(-90) scale(1.18,1)">5</text>
<text transform="translate(241.88,407.30) rotate(-90) scale(1.18,1)">4</text>
<text transform="translate(121.28,565.00) rotate(-90) scale(1.18,1)">1</text>
<text transform="translate(241.78,565.20) rotate(-90) scale(1.18,1)">3</text>
<text transform="translate(323.78,81.30) rotate(-90) scale(1.18,1)">9</text>
<text transform="translate(378.48,168.30) rotate(-90) scale(1.18,1)">10</text>
<text transform="translate(243.18,219.20) rotate(-90) scale(1.18,1)">6</text>
<text transform="translate(207.38,253.30) rotate(-90) scale(1.18,1)">7</text>
<text transform="translate(276.58,376.70) rotate(-90) scale(1.18,1)">8</text>
<text transform="translate(610.73,77.60) rotate(-90) scale(1.18,1)">6</text>
<text transform="translate(664.48,73.25) rotate(-90) scale(1.18,1)">4</text>
<text transform="translate(732.58,77.60) rotate(-90) scale(1.18,1)">8</text>
<text transform="translate(611.98,237.00) rotate(-90) scale(1.18,1)">5</text>
<text transform="translate(732.58,237.00) rotate(-90) scale(1.18,1)">7</text>
<text transform="translate(598.88,513.75) rotate(-90) scale(1.18,1)">1</text>
<text transform="translate(531.98,392.50) rotate(-90) scale(1.18,1)">2</text>
<text transform="translate(570.73,355.60) rotate(-90) scale(1.18,1)">3</text>
<text transform="translate(501.88,696.00) rotate(-90) scale(1.18,1)">1</text>
<text transform="translate(498.88,758.50) rotate(-90) scale(1.18,1)">2</text>
</g>
<g fill="#222">
<rect x="1.4" y="1190" width="11.5" height="2"/>
<rect x="14" y="1190.6" width="6" height="1.4" fill="#999"/>
<rect x="51.4" y="1190" width="2.9" height="2"/>
<rect x="92.9" y="1190" width="1.6" height="2"/>
<rect x="98.6" y="1190" width="1.6" height="2"/>
<rect x="105.7" y="1190" width="9" height="2"/>
<rect x="116.5" y="1190" width="9" height="2"/>
<rect x="145.7" y="1190" width="2.9" height="2"/>
<rect x="151.4" y="1190" width="37" height="2"/>
<rect x="255.7" y="1190" width="2.9" height="2"/>
<rect x="264.3" y="1190" width="4.3" height="2"/>
<rect x="307" y="1190" width="4" height="2"/>
<rect x="313" y="1190" width="3" height="2"/>
<rect x="325.7" y="1190" width="8.6" height="2"/>
<rect x="365.7" y="1190" width="2.9" height="2"/>
<rect x="385.7" y="1190" width="5.7" height="2"/>
<rect x="422.9" y="1190" width="5.7" height="2"/>
<rect x="468.6" y="1190" width="2.8" height="2"/>
</g>

</svg>
</body></html>
